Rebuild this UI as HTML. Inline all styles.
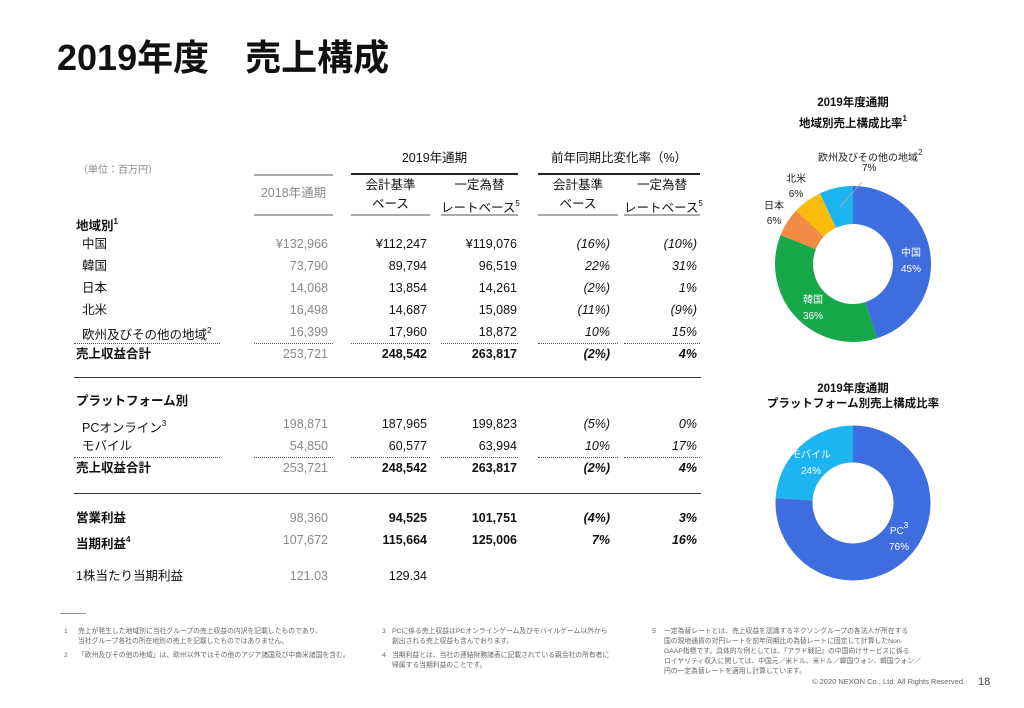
<!DOCTYPE html>
<html><head><meta charset="utf-8"><style>
*{margin:0;padding:0;box-sizing:border-box}
body{width:1024px;height:708px;background:#fff;position:relative;overflow:hidden;font-family:"Liberation Sans","Noto Sans CJK JP",sans-serif;color:#111}
.a{position:absolute;white-space:nowrap;line-height:20px;height:20px}
.r{text-align:right}
.c{text-align:center}
.g{color:#8a8a8a}
.b{font-weight:bold}
.i{font-style:italic}
.f{font-size:12.5px}
.hl{position:absolute;height:0;border-top:2px solid #222}
.gl{position:absolute;height:0;border-top:2px solid #aaa}
.dl{position:absolute;height:0;border-top:1px dotted #555}
.sl{position:absolute;height:0;border-top:1.5px solid #333}
sup{font-size:8px;vertical-align:6px}
.fn{position:absolute;font-size:6.8px;line-height:10px;color:#666;white-space:nowrap}
</style></head><body>
<div class="a b" style="left:57px;top:36px;font-size:36px;line-height:44px;height:44px">2019年度　売上構成</div>

<!-- header -->
<div class="a g" style="left:78px;top:161px;font-size:10px">（単位：百万円）</div>
<div class="a c f" style="left:351px;top:148px;width:167px">2019年通期</div>
<div class="a c f" style="left:538px;top:148px;width:162px">前年同期比変化率（%）</div>
<div class="gl" style="left:254px;top:174px;width:79px"></div>
<div class="hl" style="left:351px;top:173px;width:167px"></div>
<div class="hl" style="left:538px;top:173px;width:162px"></div>
<div class="a c g f" style="left:254px;top:183px;width:79px">2018年通期</div>
<div class="a c f" style="left:351px;top:175px;width:79px">会計基準</div>
<div class="a c f" style="left:441px;top:175px;width:77px">一定為替</div>
<div class="a c f" style="left:538px;top:175px;width:80px">会計基準</div>
<div class="a c f" style="left:624px;top:175px;width:76px">一定為替</div>
<div class="a c f" style="left:351px;top:194px;width:79px">ベース</div>
<div class="a c f" style="left:441px;top:194px;width:77px">レートベース<sup>5</sup></div>
<div class="a c f" style="left:538px;top:194px;width:80px">ベース</div>
<div class="a c f" style="left:624px;top:194px;width:76px">レートベース<sup>5</sup></div>
<div class="gl" style="left:254px;top:214px;width:79px"></div>
<div class="gl" style="left:351px;top:214px;width:79px"></div>
<div class="gl" style="left:441px;top:214px;width:77px"></div>
<div class="gl" style="left:538px;top:214px;width:80px"></div>
<div class="gl" style="left:624px;top:214px;width:76px"></div>

<!-- rows -->
<div class="a b f" style="left:76px;top:212px">地域別<sup>1</sup></div>

<div class="a f" style="left:82px;top:234px">中国</div>
<div class="a r g f" style="left:228px;top:234px;width:100px">¥132,966</div>
<div class="a r f" style="left:327px;top:234px;width:100px">¥112,247</div>
<div class="a r f" style="left:417px;top:234px;width:100px">¥119,076</div>
<div class="a r i f" style="left:510px;top:234px;width:100px">(16%)</div>
<div class="a r i f" style="left:597px;top:234px;width:100px">(10%)</div>

<div class="a f" style="left:82px;top:256px">韓国</div>
<div class="a r g f" style="left:228px;top:256px;width:100px">73,790</div>
<div class="a r f" style="left:327px;top:256px;width:100px">89,794</div>
<div class="a r f" style="left:417px;top:256px;width:100px">96,519</div>
<div class="a r i f" style="left:510px;top:256px;width:100px">22%</div>
<div class="a r i f" style="left:597px;top:256px;width:100px">31%</div>

<div class="a f" style="left:82px;top:278px">日本</div>
<div class="a r g f" style="left:228px;top:278px;width:100px">14,068</div>
<div class="a r f" style="left:327px;top:278px;width:100px">13,854</div>
<div class="a r f" style="left:417px;top:278px;width:100px">14,261</div>
<div class="a r i f" style="left:510px;top:278px;width:100px">(2%)</div>
<div class="a r i f" style="left:597px;top:278px;width:100px">1%</div>

<div class="a f" style="left:82px;top:300px">北米</div>
<div class="a r g f" style="left:228px;top:300px;width:100px">16,498</div>
<div class="a r f" style="left:327px;top:300px;width:100px">14,687</div>
<div class="a r f" style="left:417px;top:300px;width:100px">15,089</div>
<div class="a r i f" style="left:510px;top:300px;width:100px">(11%)</div>
<div class="a r i f" style="left:597px;top:300px;width:100px">(9%)</div>

<div class="a f" style="left:82px;top:321px">欧州及びその他の地域<sup>2</sup></div>
<div class="a r g f" style="left:228px;top:322px;width:100px">16,399</div>
<div class="a r f" style="left:327px;top:322px;width:100px">17,960</div>
<div class="a r f" style="left:417px;top:322px;width:100px">18,872</div>
<div class="a r i f" style="left:510px;top:322px;width:100px">10%</div>
<div class="a r i f" style="left:597px;top:322px;width:100px">15%</div>

<div class="dl" style="left:74px;top:343px;width:146px"></div>
<div class="dl" style="left:254px;top:343px;width:79px"></div>
<div class="dl" style="left:351px;top:343px;width:79px"></div>
<div class="dl" style="left:441px;top:343px;width:77px"></div>
<div class="dl" style="left:538px;top:343px;width:80px"></div>
<div class="dl" style="left:624px;top:343px;width:76px"></div>

<div class="a b f" style="left:76px;top:344px">売上収益合計</div>
<div class="a r g f" style="left:228px;top:344px;width:100px">253,721</div>
<div class="a r b f" style="left:327px;top:344px;width:100px">248,542</div>
<div class="a r b f" style="left:417px;top:344px;width:100px">263,817</div>
<div class="a r i b f" style="left:510px;top:344px;width:100px">(2%)</div>
<div class="a r i b f" style="left:597px;top:344px;width:100px">4%</div>

<div class="sl" style="left:74px;top:377px;width:627px"></div>

<div class="a b f" style="left:76px;top:391px">プラットフォーム別</div>
<div class="a f" style="left:82px;top:414px">PCオンライン<sup>3</sup></div>
<div class="a r g f" style="left:228px;top:414px;width:100px">198,871</div>
<div class="a r f" style="left:327px;top:414px;width:100px">187,965</div>
<div class="a r f" style="left:417px;top:414px;width:100px">199,823</div>
<div class="a r i f" style="left:510px;top:414px;width:100px">(5%)</div>
<div class="a r i f" style="left:597px;top:414px;width:100px">0%</div>

<div class="a f" style="left:82px;top:436px">モバイル</div>
<div class="a r g f" style="left:228px;top:436px;width:100px">54,850</div>
<div class="a r f" style="left:327px;top:436px;width:100px">60,577</div>
<div class="a r f" style="left:417px;top:436px;width:100px">63,994</div>
<div class="a r i f" style="left:510px;top:436px;width:100px">10%</div>
<div class="a r i f" style="left:597px;top:436px;width:100px">17%</div>

<div class="dl" style="left:74px;top:457px;width:146px"></div>
<div class="dl" style="left:254px;top:457px;width:79px"></div>
<div class="dl" style="left:351px;top:457px;width:79px"></div>
<div class="dl" style="left:441px;top:457px;width:77px"></div>
<div class="dl" style="left:538px;top:457px;width:80px"></div>
<div class="dl" style="left:624px;top:457px;width:76px"></div>

<div class="a b f" style="left:76px;top:458px">売上収益合計</div>
<div class="a r g f" style="left:228px;top:458px;width:100px">253,721</div>
<div class="a r b f" style="left:327px;top:458px;width:100px">248,542</div>
<div class="a r b f" style="left:417px;top:458px;width:100px">263,817</div>
<div class="a r i b f" style="left:510px;top:458px;width:100px">(2%)</div>
<div class="a r i b f" style="left:597px;top:458px;width:100px">4%</div>

<div class="sl" style="left:74px;top:493px;width:627px"></div>

<div class="a b f" style="left:76px;top:508px">営業利益</div>
<div class="a r g f" style="left:228px;top:508px;width:100px">98,360</div>
<div class="a r b f" style="left:327px;top:508px;width:100px">94,525</div>
<div class="a r b f" style="left:417px;top:508px;width:100px">101,751</div>
<div class="a r i b f" style="left:510px;top:508px;width:100px">(4%)</div>
<div class="a r i b f" style="left:597px;top:508px;width:100px">3%</div>

<div class="a b f" style="left:76px;top:530px">当期利益<sup>4</sup></div>
<div class="a r g f" style="left:228px;top:530px;width:100px">107,672</div>
<div class="a r b f" style="left:327px;top:530px;width:100px">115,664</div>
<div class="a r b f" style="left:417px;top:530px;width:100px">125,006</div>
<div class="a r i b f" style="left:510px;top:530px;width:100px">7%</div>
<div class="a r i b f" style="left:597px;top:530px;width:100px">16%</div>

<div class="a f" style="left:76px;top:566px">1株当たり当期利益</div>
<div class="a r g f" style="left:228px;top:566px;width:100px">121.03</div>
<div class="a r f" style="left:327px;top:566px;width:100px">129.34</div>

<!-- charts -->
<div class="a c b" style="left:753px;top:96px;width:200px;font-size:11.5px;line-height:15px;height:32px">2019年度通期<br>地域別売上構成比率<sup>1</sup></div>
<div class="a c b" style="left:740px;top:382px;width:226px;font-size:11.5px;line-height:15px;height:32px">2019年度通期<br>プラットフォーム別売上構成比率</div>

<svg style="position:absolute;left:0;top:0" width="1024" height="708">
<g transform="translate(853,264) rotate(-90)" fill="none" stroke-width="38">
<circle r="59" stroke="#3e6de0" stroke-dasharray="166.8 400" stroke-dashoffset="0"/>
<circle r="59" stroke="#17a84a" stroke-dasharray="133.5 400" stroke-dashoffset="-166.8"/>
<circle r="59" stroke="#f28b45" stroke-dasharray="22.2 400" stroke-dashoffset="-300.3"/>
<circle r="59" stroke="#fbbc0b" stroke-dasharray="22.2 400" stroke-dashoffset="-322.5"/>
<circle r="59" stroke="#1db4f2" stroke-dasharray="26 400" stroke-dashoffset="-344.7"/>
</g>
<line x1="840" y1="207" x2="862" y2="182" stroke="#aaa" stroke-width="0.8"/>
<g transform="translate(853,503) rotate(-90)" fill="none" stroke-width="37">
<circle r="59" stroke="#3e6de0" stroke-dasharray="281.7 400" stroke-dashoffset="0"/>
<circle r="59" stroke="#1db4f2" stroke-dasharray="89 400" stroke-dashoffset="-281.7"/>
</g>
</svg>

<div class="a" style="left:818px;top:143px;font-size:10px;color:#222">欧州及びその他の地域<sup>2</sup></div>
<div class="a" style="left:862px;top:159px;font-size:10px;color:#222">7%</div>
<div class="a c" style="left:780px;top:172px;width:32px;font-size:10px;line-height:15px;height:30px;color:#222">北米<br>6%</div>
<div class="a c" style="left:758px;top:199px;width:32px;font-size:10px;line-height:15px;height:30px;color:#222">日本<br>6%</div>
<div class="a c" style="left:895px;top:246px;width:32px;font-size:10px;line-height:16px;height:32px;color:#fff">中国<br>45%</div>
<div class="a c" style="left:797px;top:293px;width:32px;font-size:10px;line-height:16px;height:32px;color:#fff">韓国<br>36%</div>
<div class="a c" style="left:786px;top:448px;width:50px;font-size:10px;line-height:16px;height:32px;color:#fff">モバイル<br>24%</div>
<div class="a c" style="left:883px;top:518px;width:32px;font-size:10px;line-height:16px;height:32px;color:#fff">PC<sup>3</sup><br>76%</div>

<!-- footnotes -->
<div style="position:absolute;left:60px;top:613px;width:26px;border-top:1.5px solid #999"></div>
<div class="fn" style="left:64px;top:627px">1</div>
<div class="fn" style="left:78px;top:627px">売上が発生した地域別に当社グループの売上収益の内訳を記載したものであり、<br>当社グループ各社の所在地別の売上を記載したものではありません。</div>
<div class="fn" style="left:64px;top:651px">2</div>
<div class="fn" style="left:78px;top:651px">「欧州及びその他の地域」は、欧州以外ではその他のアジア諸国及び中南米諸国を含む。</div>
<div class="fn" style="left:382px;top:627px">3</div>
<div class="fn" style="left:392px;top:627px">PCに係る売上収益はPCオンラインゲーム及びモバイルゲーム以外から<br>創出される売上収益も含んでおります。</div>
<div class="fn" style="left:382px;top:651px">4</div>
<div class="fn" style="left:392px;top:651px">当期利益とは、当社の連結財務諸表に記載されている親会社の所有者に<br>帰属する当期利益のことです。</div>
<div class="fn" style="left:652px;top:627px">5</div>
<div class="fn" style="left:664px;top:627px">一定為替レートとは、売上収益を認識するネクソングループの各法人が所在する<br>国の現地通貨の対円レートを前年同期比の為替レートに固定して計算したNon-<br>GAAP指標です。具体的な例としては、『アラド戦記』の中国向けサービスに係る<br>ロイヤリティ収入に関しては、中国元／米ドル、米ドル／韓国ウォン、韓国ウォン／<br>円の一定為替レートを適用し計算しています。</div>
<div class="fn" style="left:812px;top:677px;font-size:7.5px">© 2020 NEXON Co., Ltd. All Rights Reserved.</div>
<div class="a" style="left:978px;top:672px;font-size:11px;color:#444">18</div>
</body></html>
